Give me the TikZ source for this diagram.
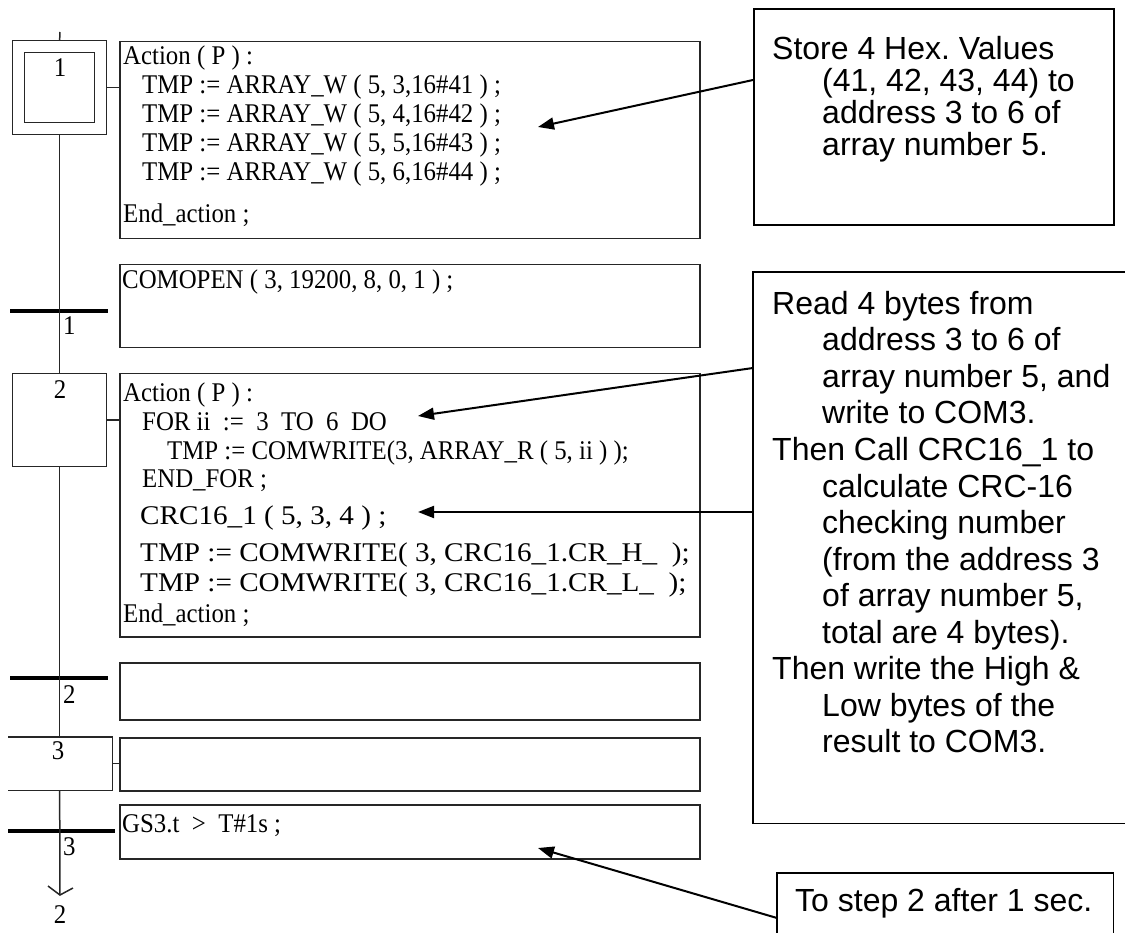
\documentclass[tikz,border=0pt]{standalone}
\usepackage{fontspec}
\setmainfont{Liberation Serif}
\newfontfamily\arialf{Liberation Sans}
\newfontfamily\codef[FakeStretch=0.92]{Liberation Serif}
\newfontfamily\widef[FakeStretch=1.08]{Liberation Serif}
\usetikzlibrary{arrows.meta,calc}
\frenchspacing
\begin{document}
\begin{tikzpicture}[x=1pt,y=-1pt,
  box/.style={draw=black!85, line width=1.5pt, inner sep=0pt, anchor=north west},
  stepbox/.style={draw=black!85, line width=1.3pt, inner sep=0pt, anchor=north west},
  code/.style={anchor=base west, inner sep=0pt, font=\frenchspacing\codef\fontsize{27}{30}\selectfont},
  bigcode/.style={anchor=base west, inner sep=0pt, font=\frenchspacing\widef\fontsize{27}{30}\selectfont},
  note/.style={anchor=base west, inner sep=0pt, font=\frenchspacing\arialf\fontsize{32}{36}\selectfont},
  trbar/.style={fill=black, inner sep=0pt, minimum height=4pt},
  flow/.style={line width=1.5pt, draw=black!85},
  frame/.style={line width=1.6pt, draw=black},
  pointer/.style={line width=2pt, -{Triangle[length=16pt,width=12pt]}},
  lbl/.style={inner sep=0pt, font=\codef\fontsize{27}{30}\selectfont}
]
\useasboundingbox (0,0) rectangle (1125,933);

% ---------- steps ----------
\node[stepbox, minimum width=94pt, minimum height=94pt] (s1o) at (12,40) {};
\node[stepbox, minimum width=70pt, minimum height=70pt] (s1i) at (24,52) {};
\node[lbl] (s1l) at (60,68) {1};
\node[stepbox, minimum width=94pt, minimum height=93pt] (s2) at (12,373) {};
\node[lbl] (s2l) at (60,390) {2};
\node[inner sep=0pt, anchor=north west, minimum width=104pt, minimum height=53pt] (s3) at (8,737) {};
\draw[flow] (s3.north west) -- (s3.north east) -- (s3.south east) -- (s3.south west);
\node[lbl] (s3l) at (58,751) {3};

% ---------- action / condition boxes ----------
\node[box, minimum width=580pt, minimum height=197pt] (a1) at (119,41) {};
\node[box, minimum width=580pt, minimum height=83pt] (c1) at (119,264) {};
\node[box, minimum width=580pt, minimum height=263pt] (a2) at (119,373) {};
\node[box, minimum width=580pt, minimum height=57pt] (c2) at (119,662) {};
\node[box, minimum width=580pt, minimum height=53pt] (a3) at (119,737) {};
\node[box, minimum width=580pt, minimum height=54pt] (c3) at (119,804) {};

% ---------- transitions ----------
\node[trbar, minimum width=98pt] (t1) at (59,311) {};
\node[trbar, minimum width=98pt] (t2) at (59,678) {};
\node[trbar, minimum width=107pt] (t3) at (61.5,831) {};
\node[code] (t1l) at (63,335) {1};
\node[code] (t2l) at (63,703) {2};
\node[code] (t3l) at (63,855) {3};

% ---------- flow lines ----------
\coordinate (top) at (60,32);
\coordinate (tip) at (60,895);
\draw[flow] (top) -- (s1o.north);
\draw[flow] (s1o.south) -- (s2.north);
\draw[flow] (s2.south) -- (s2.south |- s3.north);
\draw[flow] (s2.south |- s3.south) -- (tip);
\draw[flow] ($(tip)+(-12,-9)$) -- (tip) -- ($(tip)+(13,-7)$);
\node[lbl] (next) at (60,915) {2};
\draw[flow] (s1o.east) -- (s1o.east -| a1.west);
\draw[flow] (s2.east) -- (s2.east -| a2.west);
\draw[flow] (s3.east) -- (s3.east -| a3.west);

% ---------- code texts ----------
\node[code] (a1t1) at (123,65) {Action ( P ) :};
\node[code] (a1t2) at (142,94) {TMP := ARRAY\_W ( 5, 3,16\#41 ) ;};
\node[code] (a1t3) at (142,123) {TMP := ARRAY\_W ( 5, 4,16\#42 ) ;};
\node[code] (a1t4) at (142,152) {TMP := ARRAY\_W ( 5, 5,16\#43 ) ;};
\node[code] (a1t5) at (142,181) {TMP := ARRAY\_W ( 5, 6,16\#44 ) ;};
\node[code] (a1t6) at (123,223) {End\_action ;};

\node[code] (c1t) at (122,289) {COMOPEN ( 3, 19200, 8, 0, 1 ) ;};

\node[code] (a2t1) at (123,401) {Action ( P ) :};
\node[code] (a2t2) at (142,430) {FOR ii \ := \ 3 \ TO \ 6 \ DO};
\node[code] (a2t3) at (167,459) {TMP := COMWRITE(3, ARRAY\_R ( 5, ii ) );};
\node[code] (a2t4) at (142,487) {END\_FOR ;};
\node[bigcode] (a2t5) at (140,524) {CRC16\_1 ( 5, 3, 4 ) ;};
\node[bigcode] (a2t6) at (140,561) {TMP := COMWRITE( 3, CRC16\_1.CR\_H\_ \ );};
\node[bigcode] (a2t7) at (140,591) {TMP := COMWRITE( 3, CRC16\_1.CR\_L\_ \ );};
\node[code] (a2t8) at (123,622) {End\_action ;};

\node[code] (c3t) at (122,832) {GS3.t \ > \ T\#1s ;};

% ---------- callouts ----------
\node[inner sep=0pt, anchor=north west, minimum width=360pt, minimum height=216pt, frame, draw] (n1) at (753,8) {};
\node[note] (n1t1) at (772,59.5) {Store 4 Hex. Values};
\node[note] (n1t2) at (822,91.5) {(41, 42, 43, 44) to};
\node[note] (n1t3) at (822,123.5) {address 3 to 6 of};
\node[note] (n1t4) at (822,155.5) {array number 5.};

\node[inner sep=0pt, anchor=north west, minimum width=372pt, minimum height=551pt] (n2) at (753,272) {};
\draw[frame] (n2.north east) -- (n2.north west) -- (n2.south west) -- (n2.south east);
\node[note] (n2t1) at (772,314.5) {Read 4 bytes from};
\node[note] (n2t2) at (822,351) {address 3 to 6 of};
\node[note] (n2t3) at (822,387.5) {array number 5, and};
\node[note] (n2t4) at (822,424) {write to COM3.};
\node[note] (n2t5) at (772,460.5) {Then Call CRC16\_1 to};
\node[note] (n2t6) at (822,497) {calculate CRC-16};
\node[note] (n2t7) at (822,533.5) {checking number};
\node[note] (n2t8) at (822,570) {(from the address 3};
\node[note] (n2t9) at (822,606.5) {of array number 5,};
\node[note] (n2t10) at (822,643) {total are 4 bytes).};
\node[note] (n2t11) at (772,679.5) {Then write the High \&};
\node[note] (n2t12) at (822,716) {Low bytes of the};
\node[note] (n2t13) at (822,752.5) {result to COM3.};

\node[inner sep=0pt, anchor=north west, minimum width=336pt, minimum height=60pt] (n3) at (777,873) {};
\draw[frame] (n3.south west) -- (n3.north west) -- (n3.north east) -- (n3.south east);
\node[note] (n3t) at (795,911.5) {To step 2 after 1 sec.};

% ---------- pointers ----------
\coordinate (p1) at (538,127);
\coordinate (p2) at (418,416);
\coordinate (p3) at (418,512);
\coordinate (p4) at (538,848);
\draw[pointer] ([yshift=-72pt]n1.north west) -- (p1);
\draw[pointer] ([yshift=-96pt]n2.north west) -- (p2);
\draw[pointer] ([yshift=-240pt]n2.north west) -- (p3);
\draw[pointer] ([yshift=-45pt]n3.north west) -- (p4);
\end{tikzpicture}
\end{document}
